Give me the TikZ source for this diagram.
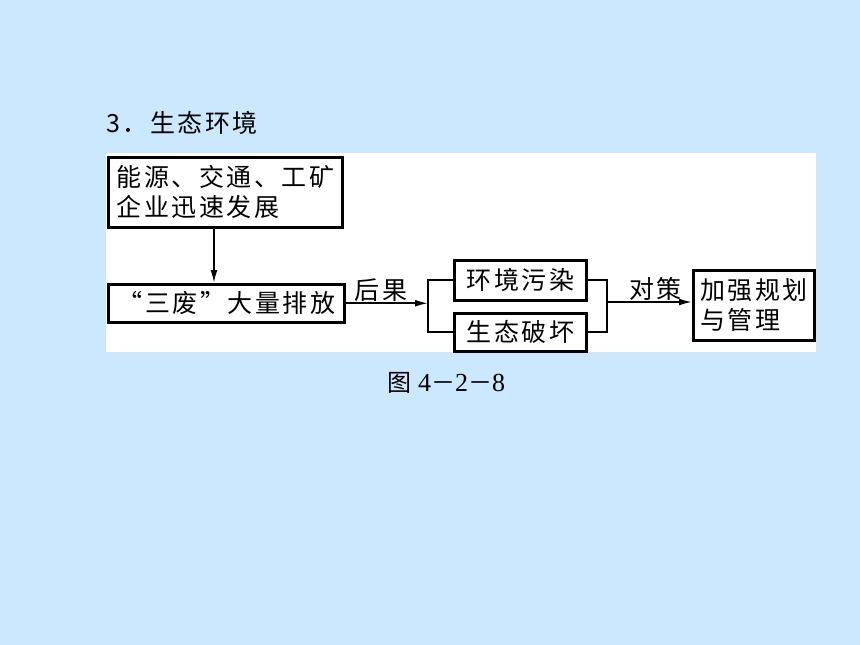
\documentclass[tikz,border=0pt]{standalone}
\usepackage{fontspec}
\setmainfont{Liberation Serif}
\newfontfamily\cjk[LetterSpace=10]{Noto Sans CJK SC}
\usetikzlibrary{arrows.meta}
\definecolor{slide}{HTML}{CCE8FF}
\newcommand{\dig}[1]{{\rmfamily\fontsize{26}{28}\selectfont #1}}
\begin{document}
\begin{tikzpicture}[x=1pt, y=-1pt, font=\fontsize{25}{30}\selectfont\cjk,
	box/.style={draw, line width=2.5pt, inner xsep=6pt, inner ysep=2pt, align=left, anchor=north west},
	link/.style={line width=1.8pt},
	arr/.style={link, -{Latex[length=13pt,width=7pt]}}]
	%background
	\useasboundingbox (0,0) rectangle (860,645);
	\fill[slide] (0,0) rectangle (860,645);
	\fill[white] (106,153) rectangle (816,352);
	%title and caption
	\node[anchor=west, inner sep=0pt] (title) at (106,123) {3．生态环境};
	\node[inner sep=0pt, font=\fontsize{24}{28}\selectfont\cjk] (caption) at (446,383) {图\hspace{7pt}\dig{4}－\dig{2}－\dig{8}};
	%boxes
	\node[box, minimum width=234pt, minimum height=70pt] (growth) at (107,156) {能源、交通、工矿\\企业迅速发展};
	\node[box, minimum width=236pt, minimum height=38pt] (waste) at (107,283) {“三废”大量排放};
	\node[box, minimum width=132pt, minimum height=40pt, align=center] (pollution) at (453,259) {环境污染};
	\node[box, minimum width=132pt, minimum height=38pt, align=center] (damage) at (453,312) {生态破坏};
	\node[box, minimum width=121pt, minimum height=70pt] (plan) at (692,269) {加强规划\\与管理};
	%branch points
	\coordinate (drop) at (214,0);
	\coordinate (fork) at (428,302);
	\coordinate (join) at (607,302);
	%arrows
	\draw[arr] (growth.south -| drop) -- (waste.north -| drop);
	\draw[arr] (waste.east) -- node[above, inner sep=1pt, xshift=-6pt] {后果} (waste.east -| fork);
	\draw[link] (pollution.west) -| (fork) |- (damage.west);
	\draw[link] (pollution.east) -| (join) |- (damage.east);
	\draw[arr] (join) -- node[above, inner sep=1pt, xshift=6pt] {对策} (join -| plan.west);
\end{tikzpicture}
\end{document}
